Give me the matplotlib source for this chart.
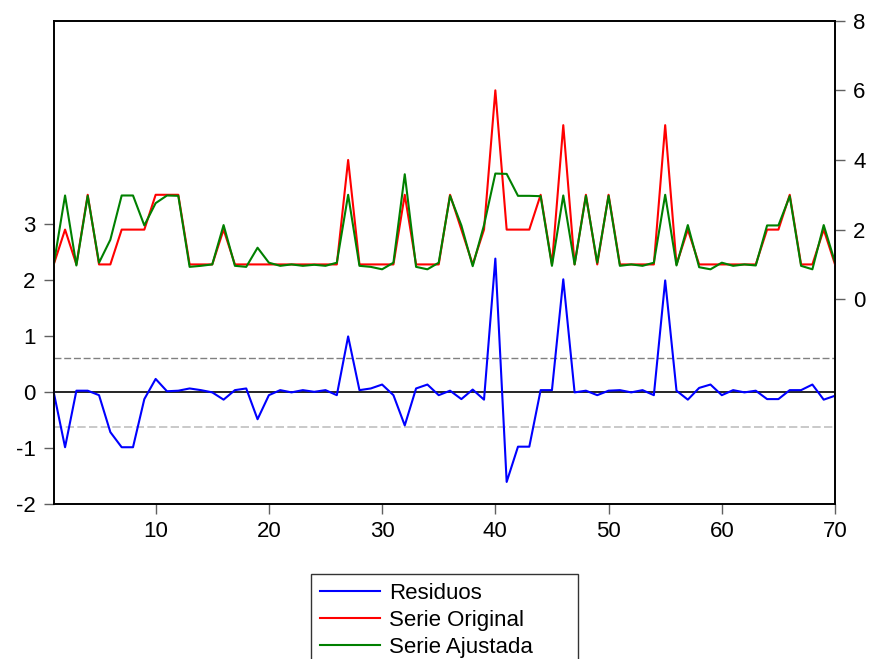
import matplotlib
matplotlib.use("Agg")
import matplotlib.pyplot as plt
from matplotlib.lines import Line2D

plt.rcParams['font.family'] = ['Liberation Sans', 'DejaVu Sans']

obs = list(range(1, 71))
actual = [1, 2, 1, 3, 1, 1, 2, 2, 2, 3,
          3, 3, 1, 1, 1, 2, 1, 1, 1, 1,
          1, 1, 1, 1, 1, 1, 4, 1, 1, 1,
          1, 3, 1, 1, 1, 3, 2, 1, 2, 6,
          2, 2, 2, 3, 1, 5, 1, 3, 1, 3,
          1, 1, 1, 1, 5, 1, 2, 1, 1, 1,
          1, 1, 1, 2, 2, 3, 1, 1, 2, 1]
residuals = [0.0, -0.98, 0.03, 0.03, -0.05, -0.71, -0.98, -0.98, -0.12, 0.24,
             0.02, 0.03, 0.07, 0.04, 0.0, -0.13, 0.04, 0.07, -0.48, -0.05,
             0.04, 0.0, 0.04, 0.01, 0.04, -0.05, 1.0, 0.04, 0.07, 0.14,
             -0.05, -0.59, 0.07, 0.14, -0.05, 0.03, -0.12, 0.05, -0.13, 2.39,
             -1.6, -0.97, -0.97, 0.04, 0.04, 2.02, 0.0, 0.03, -0.05, 0.03,
             0.04, 0.0, 0.04, -0.05, 2.0, 0.03, -0.13, 0.08, 0.14, -0.05,
             0.04, 0.0, 0.03, -0.12, -0.12, 0.04, 0.04, 0.14, -0.13, -0.06]
fitted = [1.00, 2.98, 0.97, 2.97, 1.05, 1.71, 2.98, 2.98, 2.12, 2.76,
          2.98, 2.97, 0.93, 0.96, 1.00, 2.13, 0.96, 0.93, 1.48, 1.05,
          0.96, 1.00, 0.96, 0.99, 0.96, 1.05, 3.00, 0.96, 0.93, 0.86,
          1.05, 3.59, 0.93, 0.86, 1.05, 2.97, 2.12, 0.95, 2.13, 3.61,
          3.60, 2.97, 2.97, 2.96, 0.96, 2.98, 1.00, 2.97, 1.05, 2.97,
          0.96, 1.00, 0.96, 1.05, 3.00, 0.97, 2.13, 0.92, 0.86, 1.05,
          0.96, 1.00, 0.97, 2.12, 2.12, 2.96, 0.96, 0.86, 2.13, 1.06]
std_err = 0.61

left_ticks = [-2, -1, 0, 1, 2, 3]
right_ticks = [0, 2, 4, 6, 8]
x_ticks = [10, 20, 30, 40, 50, 60, 70]
labels = ['Residuos', 'Serie Original', 'Serie Ajustada']

fig = plt.figure(figsize=(8.71, 6.59), dpi=100)
ax = fig.add_axes([0.0617, 0.2347, 0.8970, 0.7339])
ax2 = ax.twinx()

ax.axhline(0, color='black', lw=1.2, zorder=1)
ax.axhline(std_err, color='#808080', lw=1.0, linestyle=(0, (5, 2)), zorder=1)
ax.axhline(-std_err, color='#c0c0c0', lw=1.2, linestyle=(0, (5, 2)), zorder=1)
ax.plot(obs, residuals, color='#0000ff', lw=1.5, zorder=3)

ax2.plot(obs, actual, color='#ff0000', lw=1.5)
ax2.plot(obs, fitted, color='#008000', lw=1.5)

ax.set_xlim(1, 70)
ax.set_ylim(-2, 6.64)
ax2.set_ylim(-5.89, 8)

ax.set_yticks(left_ticks)
ax.set_yticklabels([str(t) for t in left_ticks])
ax2.set_yticks(right_ticks)
ax2.set_yticklabels([str(t) for t in right_ticks])
ax.set_xticks(x_ticks)
ax.set_xticklabels([str(t) for t in x_ticks])

ax.tick_params(axis='y', direction='out', length=7, width=1, color='#606060',
               labelsize=16, pad=6)
ax.tick_params(axis='x', direction='out', length=7, width=1, color='#606060',
               labelsize=16, pad=5)
ax2.tick_params(axis='y', direction='out', length=7, width=1, color='#606060',
                labelsize=16, pad=6)

for a in (ax, ax2):
    for s in a.spines.values():
        s.set_linewidth(1.2)
        s.set_color('black')

handles = [Line2D([], [], color='#0000ff', lw=1.5),
           Line2D([], [], color='#ff0000', lw=1.5),
           Line2D([], [], color='#008000', lw=1.5)]
x0 = 311 / 871
y1 = 1 - 574 / 659
w = (578 - 311) / 871
leg = fig.legend(handles, labels, loc='upper left',
                 bbox_to_anchor=(x0, y1 - 0.2, w, 0.2), mode='expand',
                 fontsize=16, frameon=True, fancybox=False,
                 edgecolor='black', handlelength=2.7, handletextpad=0.4,
                 labelspacing=0.27, borderpad=0.4, borderaxespad=0)
leg.get_frame().set_linewidth(1.0)

fig.savefig('out.png', dpi=100)
